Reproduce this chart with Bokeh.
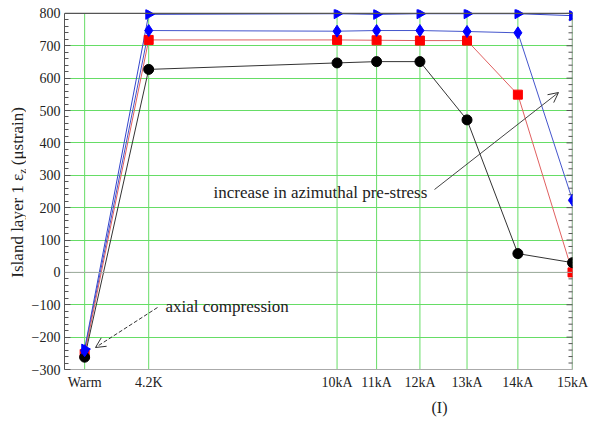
import math

from bokeh.plotting import figure
from bokeh.layouts import row
from bokeh.models import (Range1d, FixedTicker, Span, Label, Title,
                          Arrow, OpenHead)
from bokeh.core.properties import value
from bokeh.embed import file_html
from bokeh.resources import INLINE

# Loading stages; horizontal position is proportional to I^2 (kA^2),
# with the warm state placed to the left of zero.
stage_labels = ["Warm", "4.2K", "10kA", "11kA", "12kA", "13kA", "14kA", "15kA"]
stage_x = [-34, 0, 100, 121, 144, 169, 196, 225]

# Island layer 1 axial strain (microstrain) for the four pre-stress cases
strain_black = [-262, 627, 647, 651, 651, 471, 58, 30]
strain_red = [-252, 718, 718, 717, 716, 716, 549, 0]
strain_diamond = [-242, 747, 745, 747, 747, 744, 740, 223]
strain_triangle = [-237, 797, 799, 797, 799, 799, 799, 793]

y_major = list(range(-300, 801, 100))
y_minor = [v for v in range(-300, 801, 20) if v % 100]

# canvas / frame geometry (pixels, whole page)
W, H = 589, 423
LW = 26                      # strip on the left holding the vertical title
FL, FR, FT, FB = 64, 572, 9, 369
X0, X1 = -44.7, 225
Y0, Y1 = -300, 812


def to_x(px):
    return X0 + (px - FL) * (X1 - X0) / (FR - FL)


def to_y(py):
    return Y1 - (py - FT) * (Y1 - Y0) / (FB - FT)


SERIF = "Liberation Serif"
GREEN = "#66dd66"
TEXT = "#222222"
FRAME = "#555555"

p = figure(width=W - LW, height=H, x_range=Range1d(X0, X1), y_range=Range1d(Y0, Y1),
           output_backend="svg", toolbar_location=None,
           min_border_left=FL - LW, min_border_right=W - FR,
           min_border_top=FT, min_border_bottom=H - FB,
           background_fill_color="white", border_fill_color="white",
           outline_line_color=None)

# bottom axis: stage names, no ticks
xa = p.xaxis[0]
xa.ticker = FixedTicker(ticks=stage_x)
xa.major_label_overrides = {x: lab for x, lab in zip(stage_x, stage_labels)}
xa.major_tick_in = 0
xa.major_tick_out = 0
xa.minor_tick_in = 0
xa.minor_tick_out = 0
xa.axis_line_color = "#aaaaaa"
xa.major_label_text_font = SERIF
xa.major_label_text_font_size = "14px"
xa.major_label_text_color = TEXT
xa.major_label_standoff = 5

# left axis with inward ticks
ya = p.yaxis[0]
ya.ticker = FixedTicker(ticks=y_major, minor_ticks=y_minor)
ya.bounds = (-300, 800)
ya.major_tick_in = 6
ya.major_tick_out = 0
ya.minor_tick_in = 4
ya.minor_tick_out = 0
ya.axis_line_color = FRAME
ya.major_tick_line_color = FRAME
ya.minor_tick_line_color = FRAME
ya.major_label_text_font = SERIF
ya.major_label_text_font_size = "14px"
ya.major_label_text_color = TEXT
ya.major_label_standoff = 4

# grid
p.xgrid.visible = False
p.ygrid.ticker = FixedTicker(ticks=list(range(-200, 800, 100)))
p.ygrid.grid_line_color = GREEN
p.ygrid.grid_line_width = 1
p.segment(x0=stage_x, y0=[-300] * len(stage_x), x1=stage_x, y1=[800] * len(stage_x),
          line_color=GREEN, line_width=1)
p.add_layout(Span(location=0, dimension="width", line_color="#aaaaaa", line_width=1))
p.add_layout(Span(location=800, dimension="width", line_color=FRAME, line_width=1.2))

# right-hand frame edge with inward ticks (half of each dash falls outside the frame)
p.segment(x0=[X1], y0=[-300], x1=[X1], y1=[800], line_color="#888888", line_width=1.5)
p.scatter([X1] * len(y_major), y_major, marker="dash", size=12,
          line_color=FRAME, line_width=1)
p.scatter([X1] * len(y_minor), y_minor, marker="dash", size=8,
          line_color=FRAME, line_width=1)

# series
p.line(stage_x, strain_triangle, line_color="#3344cc", line_width=1)
p.line(stage_x, strain_diamond, line_color="#4455cc", line_width=1)
p.line(stage_x, strain_red, line_color="#e06060", line_width=1)
p.line(stage_x, strain_black, line_color="#333333", line_width=1)

p.scatter(stage_x, strain_red, marker="square", size=9,
          fill_color="#ff0000", line_color="#ff0000")
p.scatter(stage_x, strain_black, marker="circle", size=10,
          fill_color="#000000", line_color="#000000")
p.scatter(stage_x, strain_diamond, marker="diamond", size=12,
          fill_color="#0000ff", line_color="#0000ff")
p.scatter(stage_x, strain_triangle, marker="triangle", size=10, angle=-math.pi / 2,
          fill_color="#0000ff", line_color="#0000ff")

# annotations
p.add_layout(Label(x=to_x(213), y=to_y(192), text="increase in azimuthal pre-stress",
                   text_font=SERIF, text_font_size="17px", text_color=TEXT,
                   text_baseline="middle"))
p.add_layout(Arrow(end=OpenHead(size=10, line_color="#333333", line_width=1),
                   x_start=to_x(434), y_start=to_y(189), x_end=to_x(558), y_end=to_y(92),
                   line_color="#444444", line_width=1))

p.add_layout(Label(x=to_x(165), y=to_y(306), text="axial compression",
                   text_font=SERIF, text_font_size="17px", text_color=TEXT,
                   text_baseline="middle"))
p.add_layout(Arrow(end=OpenHead(size=10, line_color="#333333", line_width=1),
                   x_start=to_x(157), y_start=to_y(307), x_end=to_x(95), y_end=to_y(347),
                   line_color="#333333", line_width=1, line_dash="4 2"))

# horizontal axis title, right of centre
p.add_layout(Title(text="(I)", align="left", offset=367, text_font=SERIF,
                   text_font_size="16px", text_font_style="normal",
                   text_color=TEXT, standoff=8), "below")

# vertical axis title (with subscript z) in its own strip
lf = figure(width=LW, height=H, x_range=Range1d(0, LW), y_range=Range1d(0, H),
            output_backend="svg", toolbar_location=None, min_border=0,
            outline_line_color=None, background_fill_color="white",
            border_fill_color="white")
lf.axis.visible = False
lf.grid.visible = False

YL_X = 17
YL_J = 193
common = dict(angle=math.pi / 2, text_baseline="middle",
              text_font=value(SERIF), text_color=TEXT)
lf.text(x=[YL_X], y=[H - YL_J], text=["Island layer 1 \u03b5"], text_align="right",
        text_font_size="17px", **common)
lf.text(x=[YL_X + 4], y=[H - YL_J], text=["z"], text_align="left",
        text_font_size="11px", **common)
lf.text(x=[YL_X], y=[H - (YL_J - 10)], text=["(\u03bcstrain)"], text_align="left",
        text_font_size="17px", **common)

layout = row(lf, p, spacing=0)
open("out.html", "w").write(file_html(layout, INLINE))
